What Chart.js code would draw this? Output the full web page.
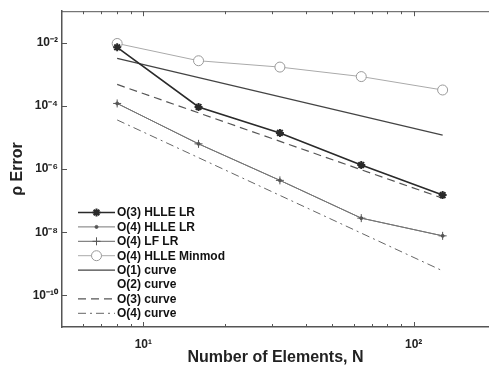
<!DOCTYPE html>
<html>
<head>
<meta charset="utf-8">
<script src="https://cdn.jsdelivr.net/npm/chart.js@4.4.0/dist/chart.umd.min.js"></script>
<style>
  html, body { margin: 0; padding: 0; background: #fff; }
</style>
</head>
<body>
<canvas id="myChart" width="489" height="369"></canvas>
<script>
// DATA
const elements = [8, 16, 32, 64, 128];
const hlleLR3 = [7.2e-3, 9.3e-5, 1.4e-5, 1.35e-6, 1.5e-7];
const hlleLR4 = [1.2e-4, 6.3e-6, 4.4e-7, 2.8e-8, 7.7e-9];
const lfLR4 = [1.2e-4, 6.3e-6, 4.4e-7, 2.8e-8, 7.7e-9];
const minmod4 = [9.5e-3, 2.7e-3, 1.7e-3, 8.5e-4, 3.2e-4];
const curveN = [8, 128];
const curve1 = [3.2e-3, 1.2e-5];
const curve2 = [];
const curve3 = [4.8e-4, 1.2e-7];
const curve4 = [3.6e-5, 6.0e-10];
const yTickValues = [1e-10, 1e-8, 1e-6, 1e-4, 1e-2];
const yTickLabels = ['10⁻¹⁰', '10⁻⁸', '10⁻⁶', '10⁻⁴', '10⁻²'];
const xTickValues = [10, 100];
const xTickLabels = ['10¹', '10²'];
const xMinorValues = [6, 7, 8, 9, 20, 30, 40, 50, 60, 70, 80, 90];

const pts = (xs, ys) => ys.map((y, i) => ({ x: xs[i], y: y }));

// LEGEND DRAWN INSIDE THE PLOT, LOWER LEFT
const insideLegend = {
    id: 'insideLegend',
    afterDatasetsDraw(chart) {
        const ctx = chart.ctx;
        const x0 = 78, x1 = 115, y0 = 212.5, step = 14.4;
        ctx.save();
        chart.data.datasets.forEach((ds, i) => {
            const y = y0 + i * step;
            if (ds.borderColor !== 'transparent') {
                ctx.strokeStyle = ds.borderColor;
                ctx.lineWidth = ds.borderWidth;
                ctx.setLineDash(ds.borderDash || []);
                ctx.beginPath();
                ctx.moveTo(x0, y);
                ctx.lineTo(x1, y);
                ctx.stroke();
                ctx.setLineDash([]);
                if (ds.pointRadius > 0) {
                    ctx.strokeStyle = ds.pointBorderColor;
                    ctx.fillStyle = ds.pointBackgroundColor;
                    ctx.lineWidth = ds.pointBorderWidth;
                    Chart.helpers.drawPoint(ctx, {
                        pointStyle: ds.pointStyle,
                        radius: ds.pointRadius,
                        borderWidth: ds.pointBorderWidth,
                        rotation: 0
                    }, (x0 + x1) / 2, y);
                }
            }
            ctx.fillStyle = '#111';
            ctx.font = 'bold 12px "Liberation Sans", Arial, sans-serif';
            ctx.textAlign = 'left';
            ctx.textBaseline = 'middle';
            ctx.fillText(ds.label, x1 + 2, y + 0.5);
        });
        ctx.restore();
    }
};

// INWARD TICK MARKS AND TOP FRAME LINE
const inwardTicks = {
    id: 'inwardTicks',
    afterDraw(chart) {
        const ctx = chart.ctx;
        const area = chart.chartArea;
        const xs = chart.scales.x, ys = chart.scales.y;
        ctx.save();
        ctx.strokeStyle = '#555';
        ctx.lineWidth = 1;
        ctx.beginPath();
        ctx.moveTo(area.left, area.top + 0.5);
        ctx.lineTo(area.right, area.top + 0.5);
        ctx.stroke();
        const xTick = (v, len) => {
            const px = Math.round(xs.getPixelForValue(v)) + 0.5;
            ctx.beginPath();
            ctx.moveTo(px, area.bottom);
            ctx.lineTo(px, area.bottom - len);
            ctx.moveTo(px, area.top);
            ctx.lineTo(px, area.top + len);
            ctx.stroke();
        };
        xTickValues.forEach(v => xTick(v, 5));
        xMinorValues.forEach(v => xTick(v, 3));
        yTickValues.forEach(v => {
            const py = Math.round(ys.getPixelForValue(v)) + 0.5;
            ctx.beginPath();
            ctx.moveTo(area.left, py);
            ctx.lineTo(area.left + 5, py);
            ctx.stroke();
        });
        ctx.restore();
    }
};

const tickFont = { family: '"Liberation Sans", Arial, sans-serif', size: 12, weight: 'bold' };
const titleFont = { family: '"Liberation Sans", Arial, sans-serif', size: 16, weight: 'bold' };

let ctx = document.getElementById('myChart').getContext('2d');
new Chart(ctx, {
    type: 'line',
    data: {
        datasets: [
            {
                label: 'O(3) HLLE LR', data: pts(elements, hlleLR3),
                borderColor: '#2a2a2a', borderWidth: 1.6,
                pointStyle: 'star', pointRadius: 4, pointBorderWidth: 2,
                pointBorderColor: '#2a2a2a', pointBackgroundColor: '#2a2a2a'
            },
            {
                label: 'O(4) HLLE LR', data: pts(elements, hlleLR4),
                borderColor: '#777', borderWidth: 1,
                pointStyle: 'circle', pointRadius: 1.5, pointBorderWidth: 1,
                pointBorderColor: '#555', pointBackgroundColor: '#555'
            },
            {
                label: 'O(4) LF LR', data: pts(elements, lfLR4),
                borderColor: '#666', borderWidth: 1,
                pointStyle: 'cross', pointRadius: 4, pointBorderWidth: 1,
                pointBorderColor: '#555', pointBackgroundColor: '#555'
            },
            {
                label: 'O(4) HLLE Minmod', data: pts(elements, minmod4),
                borderColor: '#aaa', borderWidth: 1,
                pointStyle: 'circle', pointRadius: 5, pointBorderWidth: 1,
                pointBorderColor: '#999', pointBackgroundColor: '#fff'
            },
            {
                label: 'O(1) curve', data: pts(curveN, curve1),
                borderColor: '#444', borderWidth: 1.3, pointRadius: 0
            },
            {
                label: 'O(2) curve', data: pts(curveN, curve2),
                borderColor: 'transparent', borderWidth: 1, pointRadius: 0
            },
            {
                label: 'O(3) curve', data: pts(curveN, curve3),
                borderColor: '#555', borderWidth: 1.2, borderDash: [8, 5], pointRadius: 0
            },
            {
                label: 'O(4) curve', data: pts(curveN, curve4),
                borderColor: '#666', borderWidth: 1, borderDash: [8, 4, 2, 4], pointRadius: 0
            }
        ]
    },
    options: {
        responsive: false,
        animation: false,
        layout: { autoPadding: false, padding: { top: 5, right: 0, left: 0, bottom: 0 } },
        plugins: {
            legend: { display: false },
            tooltip: { enabled: false }
        },
        scales: {
            x: {
                type: 'logarithmic', min: 5, max: 190,
                afterFit: s => { s.height = 42; },
                afterBuildTicks: s => { s.ticks = xTickValues.map(v => ({ value: v })); },
                ticks: {
                    autoSkip: false, maxRotation: 0, padding: 10, color: '#222', font: tickFont,
                    callback: v => xTickLabels[xTickValues.indexOf(v)]
                },
                grid: { display: true, drawOnChartArea: false, drawTicks: false },
                border: { display: true, color: '#555', width: 1.5 },
                title: { display: true, text: 'Number of Elements, N', color: '#222', font: titleFont, padding: { bottom: 2 } }
            },
            y: {
                type: 'logarithmic', min: 1e-11, max: 1e-1,
                afterFit: s => { s.width = 62; },
                afterBuildTicks: s => { s.ticks = yTickValues.map(v => ({ value: v })); },
                ticks: {
                    autoSkip: false, padding: 4, color: '#222', font: tickFont,
                    callback: v => yTickLabels[yTickValues.indexOf(v)]
                },
                grid: { display: true, drawOnChartArea: false, drawTicks: false },
                border: { display: true, color: '#555', width: 1.5 },
                title: { display: true, text: 'ρ Error', color: '#222', font: titleFont, padding: { top: 8 } }
            }
        }
    },
    plugins: [insideLegend, inwardTicks]
});
</script>
</body>
</html>
